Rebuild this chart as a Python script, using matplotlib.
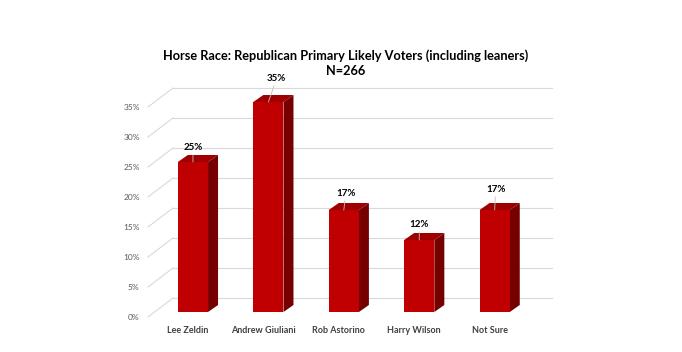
import matplotlib.pyplot as plt
import matplotlib.transforms as mtransforms
from matplotlib.patches import Polygon

candidates = ['Lee Zeldin', 'Andrew Giuliani', 'Rob Astorino', 'Harry Wilson', 'Not Sure']
support = [25, 35, 17, 12, 17]
yticks = [0, 5, 10, 15, 20, 25, 30, 35]
ytick_labels = ['%d%%' % t for t in yticks]

title_line1 = 'Horse Race: Republican Primary Likely Voters (including leaners)'
title_line2 = 'N=266'

FRONT = '#C00000'
SIDE = '#760000'
TOP = '#9E0000'
GRID = '#D9D9D9'

plt.rcParams['font.family'] = ['Lato', 'DejaVu Sans']

fig = plt.figure(figsize=(6.82, 3.52), dpi=100)
W, H = 682, 352
ax = fig.add_axes([148 / W, 40 / H, 404 / W, 240 / H])
xmin, xmax = -0.596, 4.76
ymin, ymax = 0, 40
ax.set_xlim(xmin, xmax)
ax.set_ylim(ymin, ymax)

# pixel -> data helpers
px_x = (xmax - xmin) / 404.0
px_y = (ymax - ymin) / 240.0

# walls: left side diagonals and back gridlines
wall_dx = 25 * px_x
front_drop = 5 * px_y
back_rise = 14 * px_y
for t in yticks:
    ax.plot([xmin, xmin + wall_dx], [t - front_drop, t + back_rise],
            color=GRID, lw=0.8, zorder=1, clip_on=False)
    ax.plot([xmin + wall_dx, xmax], [t + back_rise, t + back_rise],
            color=GRID, lw=0.8, zorder=1, clip_on=False)

# bars (front face) + fake depth
x = list(range(len(candidates)))
bars = ax.bar(x, support, width=0.4, color=FRONT, zorder=3)
ddx = 10 * px_x
ddy = 7 * px_y
for b in bars:
    x0 = b.get_x()
    x1 = x0 + b.get_width()
    h = b.get_height()
    side = Polygon([(x1, 0), (x1 + ddx, ddy), (x1 + ddx, h + ddy), (x1, h)],
                   closed=True, facecolor=SIDE, edgecolor='none', zorder=2.5)
    top = Polygon([(x0, h), (x0 + ddx, h + ddy), (x1 + ddx, h + ddy), (x1, h)],
                  closed=True, facecolor=TOP, edgecolor='none', zorder=2.5)
    ax.add_patch(side)
    ax.add_patch(top)

# data labels with leader lines (offsets in points)
label_offsets = [(0, 7.2), (5.8, 13.5), (1.4, 8.6), (0, 7.9), (0.7, 11.5)]
for xi, v, off in zip(x, support, label_offsets):
    ax.annotate('%d%%' % v, xy=(xi, v), xytext=off, textcoords='offset points',
                ha='center', va='bottom', fontsize=7, fontweight='bold',
                color='black', zorder=5,
                arrowprops=dict(arrowstyle='-', color='#BFBFBF', lw=0.6,
                                shrinkA=0, shrinkB=0))

# axes cosmetics
for s in ax.spines.values():
    s.set_visible(False)
ax.set_yticks(yticks)
ax.set_yticklabels(ytick_labels)
ax.set_xticks(x)
ax.set_xticklabels(candidates)
ax.tick_params(axis='y', length=0, pad=6, labelsize=6, labelcolor='#595959')
ax.tick_params(axis='x', length=0, pad=10, labelsize=6.5, labelcolor='#404040')
for lbl in ax.get_xticklabels():
    lbl.set_fontweight('bold')
    lbl.set_transform(lbl.get_transform() +
                      mtransforms.ScaledTranslation(-5 / 100, 0, fig.dpi_scale_trans))
for lbl in ax.get_yticklabels():
    lbl.set_transform(lbl.get_transform() +
                      mtransforms.ScaledTranslation(0, -5 / 100, fig.dpi_scale_trans))

fig.text(346 / W, 1 - 56 / H, title_line1, ha='center', va='center',
         fontsize=9.2, fontweight='bold', color='black')
fig.text(346 / W, 1 - 71 / H, title_line2, ha='center', va='center',
         fontsize=9.2, fontweight='bold', color='black')

fig.savefig('out.png', dpi=100)
